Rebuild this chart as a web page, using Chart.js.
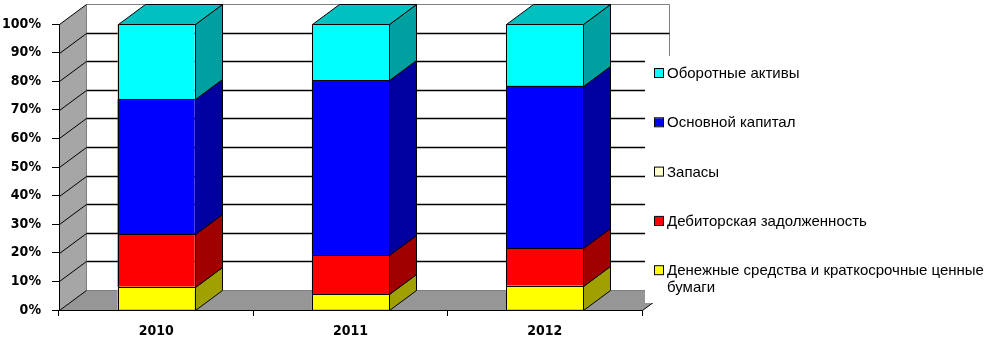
<!DOCTYPE html>
<html>
<head>
<meta charset="utf-8">
<script src="https://cdn.jsdelivr.net/npm/chart.js@4.4.1/dist/chart.umd.min.js"></script>
<style>
  html, body { margin: 0; padding: 0; background: #fff; }
  #wrap { width: 1002px; height: 340px; }
</style>
</head>
<body>
<div id="wrap"><canvas id="chart" width="1002" height="340"></canvas></div>
<script>
// data (shares in %)
const years = ['2010', '2011', '2012'];
const seriesNames = [
  'Денежные средства и краткосрочные ценные бумаги',
  'Дебиторская задолженность',
  'Запасы',
  'Основной капитал',
  'Оборотные активы'
];
const cash = [8.1, 5.5, 8.5];
const receivables = [18.4, 13.7, 13.1];
const stocks = [0, 0, 0];
const fixedCapital = [47.2, 61.2, 56.8];
const currentAssets = [26.3, 19.6, 21.6];
const yMax = 100;
const yStep = 10;

const palette = [
  { front: '#FFFF00', side: '#A0A000', top: '#C0C000' },
  { front: '#FF0000', side: '#A00000', top: '#C00000' },
  { front: '#FFFFCC', side: '#A0A080', top: '#C0C0A0' },
  { front: '#0000FF', side: '#0000A0', top: '#0000C0' },
  { front: '#00FFFF', side: '#00A0A0', top: '#00C0C0' }
];

const axisFont = { family: '"DejaVu Sans Condensed", "Liberation Sans", Arial, sans-serif', size: 14, weight: 'bold' };
const DX = 27, DY = -20; // depth of the fake 3d

const poly = (ctx, pts, fill, stroke) => {
  ctx.beginPath();
  pts.forEach(([px, py], i) => i ? ctx.lineTo(px, py) : ctx.moveTo(px, py));
  ctx.closePath();
  if (fill) { ctx.fillStyle = fill; ctx.fill(); }
  if (stroke) { ctx.strokeStyle = stroke; ctx.lineWidth = 1; ctx.stroke(); }
};

const seg = (ctx, pts, color, lw = 1) => {
  ctx.beginPath();
  pts.forEach(([px, py], i) => i ? ctx.lineTo(px, py) : ctx.moveTo(px, py));
  ctx.strokeStyle = color;
  ctx.lineWidth = lw;
  ctx.stroke();
};

const crisp = v => Math.round(v) + 0.5;

const depth3d = {
  id: 'depth3d',
  beforeDatasetsDraw(chart) {
    const { ctx, chartArea: a, scales: { y } } = chart;
    const l = crisp(a.left), r = crisp(a.right);
    const t = crisp(a.top), b = crisp(a.bottom);
    ctx.save();

    // walls and floor
    poly(ctx, [[l, t], [l + DX, t + DY], [l + DX, b + DY], [l, b]], '#A6A6A6');
    poly(ctx, [[l, b], [l + DX, b + DY], [r + DX, b + DY], [r, b]], '#969696');
    seg(ctx, [[l + DX, t + DY], [r + DX, t + DY], [r + DX, b + DY]], '#808080');
    seg(ctx, [[l + DX, t + DY], [l + DX, b + DY]], '#808080');
    seg(ctx, [[l + DX, b + DY], [r + DX, b + DY]], '#808080');

    // gridlines: slanted on the side wall, flat on the back wall
    y.ticks.forEach(tk => {
      const py = crisp(y.getPixelForValue(tk.value));
      seg(ctx, [[l, py], [l + DX, py + DY]], '#000');
      if (tk.value > 0 && tk.value < yMax) {
        seg(ctx, [[l + DX, py + DY], [r + DX, py + DY]], '#000', 1.5);
      }
    });

    // front edges
    seg(ctx, [[l, t], [l, b], [r, b]], '#000');
    seg(ctx, [[r, b], [r + DX, b + DY]], '#000');

    // bar side and top faces
    const n = chart.data.labels.length;
    for (let i = 0; i < n; i++) {
      let topBar = null, topIdx = -1;
      chart.data.datasets.forEach((ds, di) => {
        const bar = chart.getDatasetMeta(di).data[i];
        const p = bar.getProps(['x', 'y', 'base', 'width'], true);
        const right = crisp(p.x + p.width / 2);
        const y0 = crisp(Math.min(p.y, p.base)), y1 = crisp(Math.max(p.y, p.base));
        if (y1 - y0 < 0.5) return;
        poly(ctx, [[right, y0], [right + DX, y0 + DY], [right + DX, y1 + DY], [right, y1]],
          palette[di].side, '#000');
        topBar = p; topIdx = di;
      });
      if (topBar) {
        const left = crisp(topBar.x - topBar.width / 2), right = crisp(topBar.x + topBar.width / 2);
        const y0 = crisp(Math.min(topBar.y, topBar.base));
        poly(ctx, [[left, y0], [left + DX, y0 + DY], [right + DX, y0 + DY], [right, y0]],
          palette[topIdx].top, '#000');
      }
    }
    ctx.restore();
  },
  afterDatasetsDraw(chart) {
    // crisp black outline on each front face
    const { ctx } = chart;
    ctx.save();
    ctx.strokeStyle = '#000';
    ctx.lineWidth = 1;
    chart.data.datasets.forEach((ds, di) => {
      chart.getDatasetMeta(di).data.forEach(bar => {
        const p = bar.getProps(['x', 'y', 'base', 'width'], true);
        const x0 = crisp(p.x - p.width / 2), x1 = crisp(p.x + p.width / 2);
        const y0 = crisp(Math.min(p.y, p.base)), y1 = crisp(Math.max(p.y, p.base));
        if (y1 - y0 < 0.5) return;
        ctx.strokeRect(x0, y0, x1 - x0, y1 - y0);
      });
    });
    ctx.restore();
  },
  afterDraw(chart) {
    const { ctx } = chart;
    ctx.save();
    // legend box sits over the right part of the plot
    ctx.fillStyle = '#fff';
    ctx.fillRect(645, 56, 357, 247);

    ctx.font = '15px "Liberation Sans", Arial, sans-serif';
    ctx.textBaseline = 'middle';
    ctx.textAlign = 'left';
    const ds = chart.data.datasets;
    let cy = 73;
    for (let di = ds.length - 1; di >= 0; di--) {
      ctx.fillStyle = palette[di].front;
      ctx.fillRect(655, cy - 4, 8, 8);
      ctx.strokeStyle = '#000';
      ctx.lineWidth = 1;
      ctx.strokeRect(654.5, cy - 4.5, 9, 9);

      // wrap long names
      const words = ds[di].label.split(' ');
      const lines = [];
      let cur = '';
      words.forEach(w => {
        const test = cur ? cur + ' ' + w : w;
        if (ctx.measureText(test).width > 330 && cur) { lines.push(cur); cur = w; }
        else cur = test;
      });
      lines.push(cur);
      ctx.fillStyle = '#000';
      lines.forEach((ln, k) => ctx.fillText(ln, 667, cy + 1 + k * 17));
      cy += 49.3;
    }
    ctx.restore();
  }
};

const series = [cash, receivables, stocks, fixedCapital, currentAssets];

new Chart(document.getElementById('chart'), {
  type: 'bar',
  data: {
    labels: years,
    datasets: series.map((vals, i) => ({
      label: seriesNames[i],
      data: vals,
      backgroundColor: palette[i].front,
      borderWidth: 0,
      categoryPercentage: 0.397,
      barPercentage: 1
    }))
  },
  options: {
    responsive: false,
    animation: false,
    layout: { padding: { top: 24, right: 360, left: 0, bottom: 0 } },
    plugins: { legend: { display: false }, tooltip: { enabled: false } },
    scales: {
      x: {
        stacked: true,
        afterFit: s => { s.height = 30; },
        grid: { display: true, drawOnChartArea: false, tickLength: 6, color: '#000' },
        border: { display: true, color: '#000' },
        ticks: { color: '#000', padding: 7, font: axisFont }
      },
      y: {
        stacked: true,
        min: 0,
        max: yMax,
        afterFit: s => { s.width = 59; },
        grid: { display: true, drawOnChartArea: false, tickLength: 7, color: '#000' },
        border: { display: true, color: '#000' },
        ticks: {
          stepSize: yStep,
          color: '#000',
          padding: 11,
          callback: v => v + '%',
          font: axisFont
        }
      }
    }
  },
  plugins: [depth3d]
});
</script>
</body>
</html>
